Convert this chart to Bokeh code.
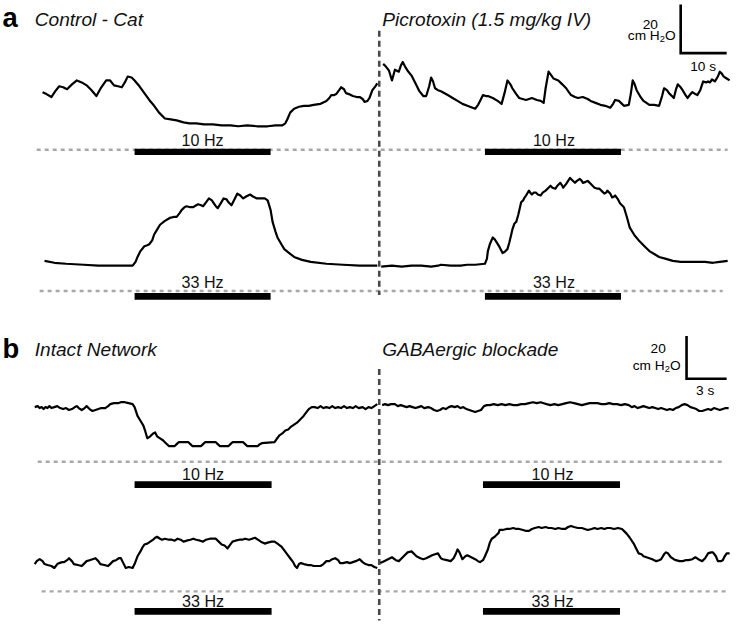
from bokeh.plotting import figure
from bokeh.models import Range1d
from bokeh.core.properties import value
from bokeh.embed import file_html
from bokeh.resources import INLINE

# ---------------- data (trace samples: time position, pressure position) ----------------
ctrl_10hz = [(43,94),(47,96),(52,99),(56,93),(60,88),(64,89),(68,91),(73,86),(78,82),(83,84),(88,87),(93,92),
             (98,98),(103,89),(108,82),(112,82),(116,87),(120,88),(124,89),(127,84),(130,78),(134,79),(137,82),
             (142,88),(147,95),(152,102),(157,108),(162,115),(168,121),(174,122),(180,123),(187,125),(193,126),
             (200,126),(208,127),(217,127),(226,128),(235,128),(243,129),(252,128),(262,129),(273,129),(281,128),
             (288,128),(291,126),(293,122),(296,115),(300,111),(305,109),(310,108),(315,108),(320,107),(327,106),
             (333,103),(336,100),(338,97),(341,97),(343,96),(346,92),(348,89),(351,91),(353,95),(356,96),(360,98),
             (364,99),(367,99),(370,101),(372,104),(375,103),(377,100),(380,92),(383,88),(385,85)]

picro_10hz = [(391,65),(394,68),(397,72),(400,82),(403,71),(405,72),(407,73),(409,67),(411,63),(413,67),(416,72),
              (420,77),(425,87),(428,93),(432,98),(435,98),(438,88),(440,79),(442,83),(444,90),(447,92),(450,93),
              (457,97),(462,100),(467,103),(472,106),(477,108),(485,111),(488,107),(490,103),(493,97),(496,98),
              (498,98),(503,100),(508,103),(512,106),(515,95),(518,82),(521,86),(523,90),(527,96),(530,100),
              (537,102),(543,100),(548,102),(552,103),(555,105),(557,90),(560,73),(563,77),(565,80),(570,82),
              (573,85),(575,87),(578,90),(580,93),(583,97),(587,99),(590,100),(595,99),(600,101),(603,103),
              (608,105),(613,107),(618,108),(623,110),(626,106),(628,102),(632,103),(635,106),(637,108),(642,107),
              (644,96),(646,82),(648,86),(650,92),(654,99),(657,103),(663,107),(668,107),(673,108),(676,98),
              (678,90),(681,92),(683,95),(686,98),(688,100),(690,92),(692,86),(695,89),(697,92),(700,97),(702,100),
              (705,96),(707,94),(710,96),(712,97),(715,92),(718,83),(721,84),(723,83),(725,84),(727,81),(730,83),
              (733,78),(735,73),(737,75),(739,78),(742,80),(745,82)]

ctrl_33hz = [(45,267),(55,269),(67,270),(85,271),(100,272),(120,272),(135,272),(138,268),(140,263),(143,257),
             (147,252),(150,251),(152,250),(155,246),(157,240),(160,235),(163,230),(168,226),(173,223),(177,222),
             (180,222),(183,218),(185,215),(188,212),(190,211),(194,212),(197,212),(200,210),(202,209),(205,210),
             (207,211),(210,207),(213,203),(216,205),(218,208),(220,211),(222,213),(225,208),(228,203),(231,204),
             (233,207),(236,210),(239,204),(242,198),(245,200),(248,203),(251,201),(255,199),(258,201),(262,203),
             (266,203),(270,203),(273,205),(276,215),(278,227),(281,237),(283,243),(287,250),(290,255),(295,259),
             (300,263),(308,266),(317,268),(333,270),(350,271),(367,272),(380,272),(385,272)]

picro_33hz = [(389,273),(400,272),(410,273),(420,272),(430,272),(440,273),(447,272),(450,271),(460,272),(470,272),
              (477,271),(485,271),(495,270),(497,265),(498,257),(500,250),(503,243),(505,245),(507,248),(510,253),
              (513,259),(515,258),(518,255),(520,248),(523,235),(525,229),(527,227),(529,220),(532,207),(534,205),
              (535,203),(537,200),(540,195),(542,198),(543,199),(545,197),(547,197),(549,199),(552,200),(554,197),
              (557,195),(560,192),(562,190),(564,192),(567,193),(569,190),(572,187),(574,190),(575,192),(578,188),
              (582,182),(584,184),(587,187),(589,185),(592,183),(594,185),(595,187),(598,186),(600,185),(603,188),
              (607,192),(610,193),(612,193),(615,196),(617,198),(619,197),(620,195),(623,198),(625,202),(627,201),
              (628,200),(631,204),(633,208),(637,212),(640,222),(643,233),(648,241),(653,247),(658,252),(663,257),
              (668,260),(673,263),(680,265),(687,267),(695,268),(703,268),(712,268),(720,268),(728,269),(735,268),
              (743,267)]

intact_10hz = [(35,417),(38,416),(40,418),(42,417),(44,419),(46,417),(48,418),(50,416),(52,418),(55,417),(58,416),
               (61,418),(64,419),(67,418),(70,420),(73,419),(76,417),(78,416),(80,418),(83,420),(86,418),(88,416),
               (91,419),(94,421),(97,420),(100,419),(103,418),(107,418),(110,416),(112,414),(116,413),(120,413),
               (123,412),(127,412),(131,413),(135,414),(137,417),(140,426),(143,431),(146,436),(148,442),(150,449),
               (153,447),(156,444),(158,443),(160,447),(163,449),(166,451),(169,454),(172,457),(178,457),(180,455),
               (182,453),(192,453),(194,455),(196,457),(205,457),(207,455),(209,453),(220,453),(222,455),(224,457),
               (233,457),(235,455),(237,453),(248,453),(250,455),(252,457),(263,457),(265,455),(267,454),(280,453),
               (282,450),(285,446),(288,444),(291,441),(294,440),(297,437),(300,435),(303,433),(306,430),(309,427),
               (312,423),(315,419),(318,417),(321,417),(324,418),(327,416),(330,418),(333,417),(336,418),(339,416),
               (342,418),(345,417),(348,418),(351,416),(354,418),(357,417),(360,418),(363,416),(366,418),(370,417),
               (373,419),(376,417),(379,418),(382,416),(385,414)]

gaba_10hz = [(390,415),(393,414),(396,415),(399,414),(403,414),(406,416),(409,415),(412,416),(415,417),(418,416),
             (421,417),(424,418),(427,417),(430,416),(433,418),(437,417),(440,418),(443,420),(446,421),(449,420),
             (452,418),(455,419),(458,417),(461,416),(464,417),(467,416),(470,418),(473,417),(476,419),(479,420),
             (482,421),(485,422),(488,421),(491,420),(494,416),(497,415),(500,415),(504,414),(508,415),(512,414),
             (516,415),(520,414),(524,415),(528,415),(532,414),(536,414),(540,413),(544,412),(548,413),(552,412),
             (555,413),(558,414),(562,415),(566,414),(570,415),(574,414),(578,413),(582,412),(586,413),(590,414),
             (594,415),(598,414),(602,413),(606,413),(610,413),(614,414),(618,414),(622,413),(626,414),(630,414),
             (634,415),(638,414),(642,415),(645,417),(648,416),(651,418),(654,417),(657,416),(660,417),(663,418),
             (666,417),(669,418),(672,419),(675,418),(678,419),(681,420),(684,419),(687,420),(690,418),(693,417),
             (696,415),(699,414),(702,415),(705,417),(708,418),(711,419),(714,421),(717,421),(720,420),(723,419),
             (726,420),(729,418),(732,419),(735,420),(738,419),(741,418),(744,418)]

intact_33hz = [(35,578),(37,575),(40,573),(43,575),(45,578),(48,579),(52,580),(55,582),(58,578),(60,577),(63,576),
               (65,576),(68,574),(70,572),(73,575),(75,578),(79,579),(83,580),(86,577),(88,575),(91,574),(94,573),
               (97,572),(100,575),(102,578),(106,579),(110,580),(113,577),(115,575),(118,574),(121,572),(123,572),
               (125,576),(128,582),(131,581),(135,582),(137,578),(140,570),(143,565),(145,561),(147,558),(150,557),
               (153,555),(156,553),(158,551),(160,550),(163,552),(165,553),(168,552),(172,553),(175,553),(178,554),
               (181,552),(184,553),(187,555),(190,554),(194,553),(197,552),(200,553),(204,554),(207,555),(210,553),
               (214,552),(217,552),(220,552),(223,555),(226,558),(229,559),(232,562),(234,559),(237,555),(240,554),
               (244,553),(247,553),(250,552),(254,553),(257,552),(260,551),(263,553),(266,555),(270,557),(273,556),
               (277,555),(280,555),(283,557),(287,560),(290,564),(293,568),(296,572),(299,576),(301,580),(303,582),
               (305,578),(307,577),(310,578),(314,579),(317,579),(320,580),(324,580),(327,580),(330,578),(333,575),
               (336,575),(339,573),(342,572),(345,574),(347,577),(350,577),(354,576),(357,577),(360,576),(363,575),
               (367,573),(370,576),(373,578),(376,579),(379,579),(382,581),(385,582)]

gaba_33hz = [(388,577),(392,575),(396,573),(400,571),(404,574),(407,575),(410,572),(413,569),(416,566),(420,565),
             (423,568),(425,570),(429,572),(432,573),(435,572),(437,571),(441,569),(444,568),(447,567),(450,572),
             (452,573),(456,574),(460,575),(463,572),(465,568),(467,563),(469,566),(472,573),(475,570),(477,569),
             (481,571),(485,573),(488,575),(490,576),(493,574),(495,570),(498,563),(500,556),(502,552),(505,550),
             (507,548),(509,546),(510,543),(513,543),(517,542),(520,542),(524,541),(527,542),(530,542),(534,543),
             (537,544),(540,544),(543,542),(546,541),(550,540),(553,541),(557,540),(560,541),(563,541),(567,542),
             (570,541),(574,542),(577,542),(580,540),(583,539),(586,540),(590,541),(594,541),(597,542),(600,543),
             (604,542),(607,541),(610,542),(614,541),(617,542),(620,541),(623,541),(627,542),(631,541),(635,542),
             (638,545),(640,547),(643,551),(647,557),(650,563),(652,567),(655,568),(657,570),(660,571),(663,572),
             (666,573),(670,575),(673,574),(675,573),(678,568),(680,566),(682,567),(685,571),(688,573),(690,574),
             (694,575),(697,575),(700,574),(703,574),(707,573),(710,571),(713,573),(717,575),(720,572),(723,567),
             (726,566),(728,566),(731,570),(733,575),(736,575),(738,574),(740,570),(742,567),(745,567)]

traces = [ctrl_10hz, picro_10hz, ctrl_33hz, picro_33hz, intact_10hz, gaba_10hz, intact_33hz, gaba_33hz]

# stimulation windows (start, end) for left and right columns, per row
stim_left = [(137, 276), (137, 276), (137, 277), (137, 277)]
stim_right = [(495, 634), (495, 634), (493, 633), (493, 633)]
stim_labels = ["10 Hz", "33 Hz", "10 Hz", "33 Hz"]
panel_titles = ["Control - Cat", "Picrotoxin (1.5 mg/kg IV)", "Intact Network", "GABAergic blockade"]
panel_letters = ["a", "b"]
scale_y_labels = ["20", "20"]
scale_x_labels = ["10 s", "3 s"]

# ---------------- layout ----------------
W, H = 734, 625
S = W / 750.0
FONT = "Liberation Sans"

p = figure(width=W, height=H, x_range=Range1d(0, 750), y_range=Range1d(641, 0),
           output_backend="svg", toolbar_location=None, min_border=0,
           background_fill_color="white", border_fill_color="white")
p.axis.visible = False
p.grid.visible = False
p.outline_line_color = None


def fs(px):
    return f"{px * S:.1f}px"


def tb(y, px):
    # baseline correction (rendered glyphs sit slightly low)
    return y - 0.2 * px


# baselines (dotted)
baseline_rows = [(37, 743, 153), (40, 738, 298), (38, 738, 473), (42, 742, 606)]
for x0, x1, yb in baseline_rows:
    p.line([x0, x1], [yb, yb], line_color="#a8a8a8", line_width=2.4, line_dash="4 4")

# separators (dashed vertical)
p.line([387, 387], [31, 302], line_color="#4a4a4a", line_width=2.6, line_dash="6 4")
p.line([387, 387], [378, 636], line_color="#4a4a4a", line_width=2.6, line_dash="6 4")

# traces
for tr in traces:
    xs, ys = zip(*tr)
    p.line(list(xs), list(ys), line_color="black", line_width=2.2, line_join="round")

# stimulation bars
bar_rows = [(152, 158.5), (300, 307), (493, 500), (623, 630)]
for (yt, yb), (l0, l1), (r0, r1) in zip(bar_rows, stim_left, stim_right):
    p.quad(left=[l0, r0], right=[l1, r1], top=[yt, yt], bottom=[yb, yb],
           fill_color="black", line_color=None)

# stim labels
label_base = [146.5, 292.5, 488.5, 619.5]
for yb, lab, (l0, l1), (r0, r1) in zip(label_base, stim_labels, stim_left, stim_right):
    yy = tb(yb, 16.5)
    p.text(x=[(l0 + l1) / 2, (r0 + r1) / 2 + 1], y=[yy, yy], text=[lab, lab],
           text_font=value(FONT), text_font_size=fs(16.5), text_align="center",
           text_baseline="alphabetic", text_color="#111111")

# panel letters and titles
p.text(x=[2, 2], y=[tb(23, 28), tb(362, 28)], text=panel_letters, text_font=value(FONT),
       text_font_size=fs(28), text_font_style="bold", text_baseline="alphabetic", text_color="black")
p.text(x=[35, 390, 35, 390], y=[tb(23, 19.5)] * 2 + [tb(362, 19.5)] * 2, text=panel_titles,
       text_font=value(FONT), text_font_size=fs(19.5), text_font_style="italic",
       text_baseline="alphabetic", text_color="#111111")

# scale bars
scales = [dict(vx=695, vy0=4, vy1=54, hx1=742, num=(664, 27), unit_left=641, unit_base=39, xs=(718, 71)),
          dict(vx=701, vy0=344, vy1=388, hx1=742, num=(672, 360), unit_left=646, unit_base=377, xs=(720, 403))]
for sc, ylab, xlab in zip(scales, scale_y_labels, scale_x_labels):
    p.line([sc["vx"], sc["vx"], sc["hx1"]], [sc["vy0"], sc["vy1"], sc["vy1"]],
           line_color="black", line_width=2.6, line_join="miter")
    p.text(x=[sc["num"][0]], y=[tb(sc["num"][1], 14)], text=[ylab], text_font=value(FONT),
           text_font_size=fs(14), text_align="center", text_baseline="alphabetic")
    ux = sc["unit_left"]
    ub = tb(sc["unit_base"], 14)
    p.text(x=[ux], y=[ub], text=["cm H"], text_font=value(FONT), text_font_size=fs(14),
           text_align="left", text_baseline="alphabetic")
    p.text(x=[ux + 32.7], y=[ub + 3.5], text=["2"], text_font=value(FONT), text_font_size=fs(9.5),
           text_align="left", text_baseline="alphabetic")
    p.text(x=[ux + 38.0], y=[ub], text=["O"], text_font=value(FONT), text_font_size=fs(14),
           text_align="left", text_baseline="alphabetic")
    p.text(x=[sc["xs"][0]], y=[tb(sc["xs"][1], 14)], text=[xlab], text_font=value(FONT),
           text_font_size=fs(14), text_align="center", text_baseline="alphabetic")

open("out.html", "w").write(file_html(p, INLINE))
